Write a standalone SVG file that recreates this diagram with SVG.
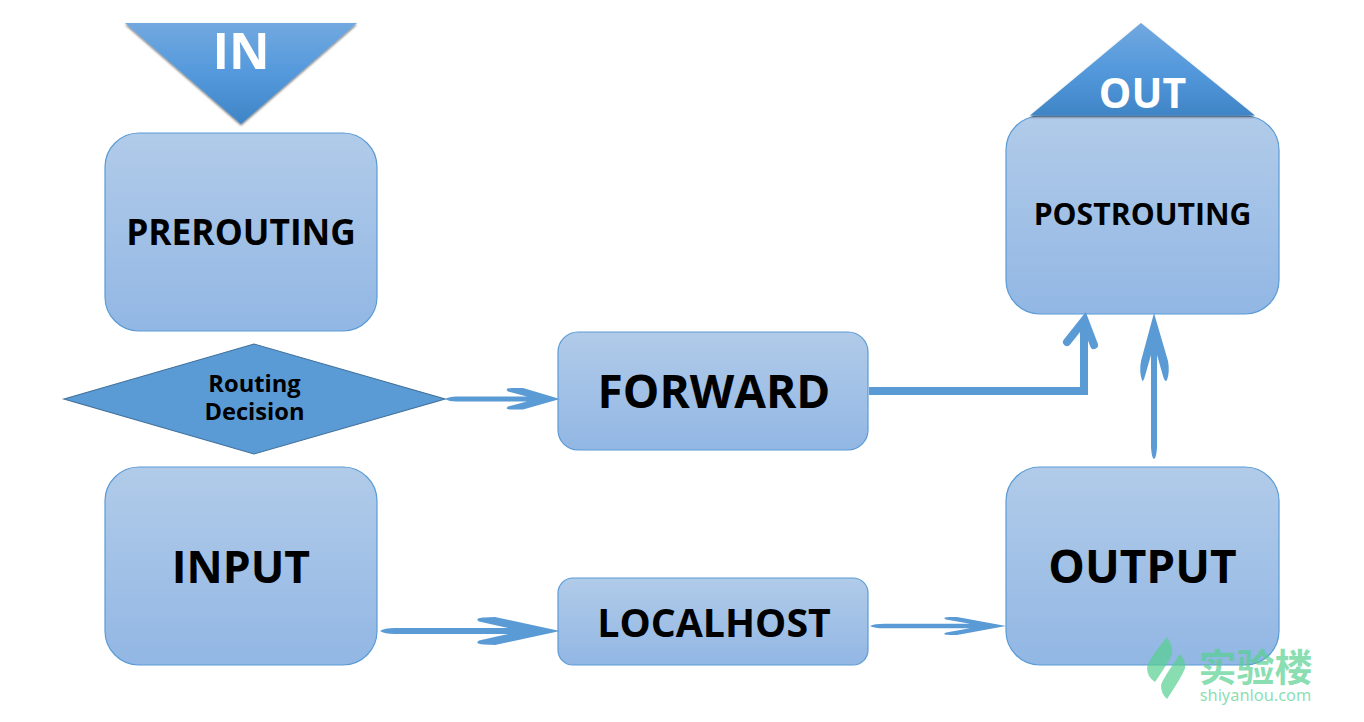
<svg xmlns="http://www.w3.org/2000/svg" width="1364" height="722" viewBox="0 0 1364 722">
<style>
.box{fill:url(#boxGrad);stroke:#5b9bd5;stroke-width:1.2}
.tri{fill:url(#triGrad);filter:url(#sh)}
.t{font-family:"Open Sans","Noto Sans","Liberation Sans",sans-serif;font-weight:700;text-anchor:middle;fill:#000}
.w{fill:#fff}
.a{fill:#5b9bd5}
.wm{fill:#55d090;fill-opacity:.7}
</style>
<defs>
<linearGradient id="boxGrad" x1="0" y1="0" x2="0" y2="1"><stop offset="0" stop-color="#b1cbe9"/><stop offset="1" stop-color="#92b7e4"/></linearGradient>
<linearGradient id="triGrad" x1="0" y1="0" x2="0" y2="1"><stop offset="0" stop-color="#72a8df"/><stop offset=".5" stop-color="#5499dc"/><stop offset="1" stop-color="#3f85c6"/></linearGradient>
<filter id="sh" x="-5%" y="-5%" width="110%" height="115%"><feDropShadow dx="0" dy="1.500" stdDeviation="1" flood-color="#000" flood-opacity=".55"/></filter>
</defs>
<g id="in"><polygon class="tri" points="125,23 357,23 241,124"/><text class="t w" x="241" y="69" font-size="50">IN</text></g>
<g id="prerouting"><rect class="box" x="105" y="133" width="272" height="198" rx="34"/><text class="t" x="241" y="245" font-size="35.300">PREROUTING</text></g>
<g id="decision"><polygon points="64,399 254,344 445,399 254,454" fill="#5b9bd5" stroke="#41719c" stroke-width="1.200"/><text class="t" font-size="23.700"><tspan x="254.500" y="392">Routing</tspan><tspan x="254.500" y="420">Decision</tspan></text></g>
<g id="input"><rect class="box" x="105" y="467" width="272" height="198" rx="34"/><text class="t" x="241" y="583" font-size="44.500">INPUT</text></g>
<g id="forward"><rect class="box" x="558" y="332" width="310" height="118" rx="20"/><text class="t" x="714" y="408" font-size="46">FORWARD</text></g>
<g id="localhost"><rect class="box" x="558" y="578" width="310" height="87" rx="15"/><text class="t" x="714" y="637" font-size="39.300">LOCALHOST</text></g>
<g id="postrouting"><rect class="box" x="1006" y="116" width="273" height="198" rx="34"/><text class="t" x="1142.500" y="225" font-size="30.200">POSTROUTING</text></g>
<g id="out"><polygon class="tri" points="1141,23 1030,115.500 1255,115.500"/><text class="t w" x="1142.500" y="108" font-size="41">OUT</text></g>
<g id="output"><rect class="box" x="1006" y="467" width="273" height="198" rx="34"/><text class="t" x="1142.500" y="583" font-size="46">OUTPUT</text></g>
<g id="connectors">
<path class="a" d="M445 399Q449 396.500 456 396.500L527 396.500L508 391.500Q504 388 512 388L523 388L560 399L523 409.500L512 409.500Q504 409.500 508 406.500L527 401.500L456 401.500Q449 401.500 445 399Z"/>
<path class="a" d="M380 631Q384 628 395 628L508 628L479 621.500Q474 618 484 617.500L495 617L560 631L495 645L484 644.500Q474 644 479 640.500L508 634L395 634Q384 634 380 631Z"/>
<path class="a" d="M870 626Q874 623.700 885 623.700L970 623.700L946 619.500Q941 617 950 617L957 617L1006 626L957 635L950 635Q941 635 946 632.500L970 628.300L885 628.300Q874 628.300 870 626Z"/>
<path class="a" d="M1154 313L1168 361Q1170 372 1167 380Q1165 383 1163 376L1157 355L1157 448Q1156 459 1154 459Q1152 459 1151 448L1151 355L1145 376Q1143 383 1142 380Q1139 372 1141 361Z"/>
<path d="M869 391H1084V320" fill="none" stroke="#5b9bd5" stroke-width="8"/>
<path d="M1067 342L1084.500 320L1094 345" fill="none" stroke="#5b9bd5" stroke-width="8" stroke-linecap="round" stroke-linejoin="miter"/>
</g>
<g id="watermark">
<path class="wm" d="M1167 637Q1173 645 1172 654Q1170 660 1155 682Q1147 677 1147 668Q1148 660 1167 637Z"/>
<path class="wm" d="M1180 654Q1186 661 1185 668Q1183 675 1167 699Q1161 694 1161 685Q1162 680 1180 654Z"/>
<text text-anchor="middle" class="wm"><tspan x="1255.500" y="681" font-family="'Noto Sans CJK SC',sans-serif" font-size="38" font-weight="700">实验楼</tspan><tspan x="1255.500" y="701" font-family="'Noto Sans','Open Sans',sans-serif" font-size="16.400">shiyanlou.com</tspan></text>
</g>
</svg>
